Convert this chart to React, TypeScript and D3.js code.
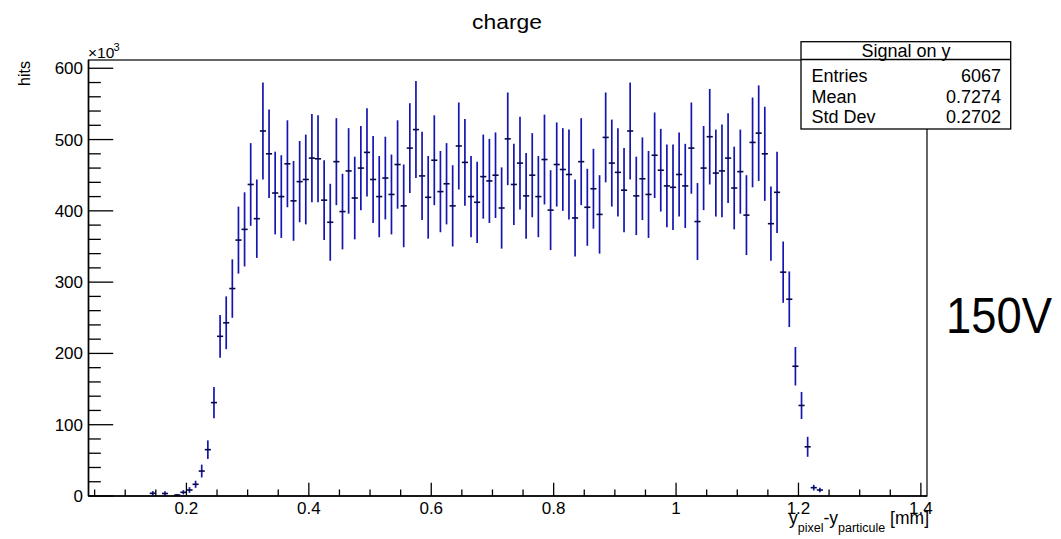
import React from "react";
import * as d3 from "d3";

// Histogram definition: 137 bins of width 0.01 starting at 0.04 (mm)
const binLow = 0.04;
const binWidth = 0.01;
const firstFilledBin = 10;
// bin contents (x10^3 hits), bins 10..119
const counts: number[] = [
  3.8, 0, 3.5, 0, 1.4, 5.2, 8.4, 16.4, 35, 65,
  131, 224, 243, 291, 359, 374, 437, 389, 512, 480,
  425, 420, 466, 414, 441, 444, 474, 473, 415, 384,
  469, 399, 456, 418, 460, 482, 444, 420, 446, 423,
  465, 407, 488, 514, 449, 419, 471, 427, 438, 407,
  491, 468, 420, 412, 448, 442, 450, 404, 501, 437,
  467, 421, 450, 420, 472, 401, 465, 458, 451, 390,
  469, 405, 431, 395, 503, 467, 454, 429, 512, 421,
  445, 423, 478, 457, 435, 433, 451, 435, 488, 385,
  460, 504, 453, 456, 474, 432, 455, 394, 496, 509,
  480, 382, 426, 314, 276, 182, 127, 69, 11.7, 8.4,
];
// half-lengths of the error bars (x10^3)
const errors: number[] = [
  3, 0, 3, 0, 1.5, 3, 4, 5, 9, 13,
  22, 30, 37, 41, 47, 52, 58, 55, 68, 62,
  58, 58, 61, 56, 57, 63, 62, 61, 56, 54,
  61, 53, 60, 58, 59, 62, 61, 57, 58, 56,
  62, 58, 63, 68, 62, 58, 63, 57, 57, 57,
  61, 61, 57, 57, 59, 59, 60, 57, 65, 57,
  65, 60, 59, 57, 63, 56, 59, 58, 63, 54,
  61, 54, 56, 55, 63, 61, 62, 59, 68, 55,
  58, 61, 60, 58, 58, 60, 59, 59, 64, 54,
  59, 67, 61, 65, 63, 58, 59, 56, 63, 67,
  66, 52, 57, 43, 39, 27, 19, 14, 4, 3,
];

const xDomain: [number, number] = [0.04, 1.41];
const yDomain: [number, number] = [0, 611.6];
const xMajorTicks = [0.2, 0.4, 0.6, 0.8, 1.0, 1.2, 1.4];
const xTickLabels = ["0.2", "0.4", "0.6", "0.8", "1", "1.2", "1.4"];
const yMajorTicks = [0, 100, 200, 300, 400, 500, 600];
const yTickLabels = ["0", "100", "200", "300", "400", "500", "600"];

const statsTitle = "Signal on y";
const statsRows: [string, string][] = [
  ["Entries", "6067"],
  ["Mean", "0.7274"],
  ["Std Dev", "0.2702"],
];

const W = 1061;
const H = 539;
const left = 88.5;
const right = 927;
const top = 60;
const bottom = 496;
const font = "'Liberation Sans', Arial, Helvetica, sans-serif";

export default function App() {
  const x = d3.scaleLinear().domain(xDomain).range([left, right]);
  const y = d3.scaleLinear().domain(yDomain).range([bottom, top]);

  const xMinor = d3.range(0.05, 1.41, 0.05).filter(
    (v) => !xMajorTicks.some((m) => Math.abs(m - v) < 1e-6)
  );
  const yMinor = d3.range(20, 611, 20).filter((v) => v % 100 !== 0);

  const points = counts.map((c, i) => {
    const k = firstFilledBin + i;
    const lo = binLow + k * binWidth;
    return { lo, hi: lo + binWidth, c: c, e: errors[i] };
  }).filter((p) => p.c > 0);

  return (
    <svg
      width={W}
      height={H}
      style={{ position: "absolute", left: 0, top: 0, background: "#fff" }}
      fontFamily={font}
    >
      <rect x={0} y={0} width={W} height={H} fill="#fff" />
      {/* title */}
      <text x={507} y={28.5} fontSize={21} textAnchor="middle" textLength={70} lengthAdjust="spacingAndGlyphs">charge</text>

      {/* data */}
      <g>
        {points.map((p, i) => {
          const cx = x((p.lo + p.hi) / 2);
          return (
            <g key={i}>
              <line x1={cx} x2={cx} y1={y(p.c - p.e)} y2={y(p.c + p.e)} stroke="#1515b0" strokeWidth={1.7} />
              <line x1={x(p.lo)} x2={x(p.hi)} y1={y(p.c)} y2={y(p.c)} stroke="#07074a" strokeWidth={1.6} />
            </g>
          );
        })}
      </g>

      {/* frame */}
      <rect x={left} y={top} width={right - left} height={bottom - top} fill="none" stroke="#000" strokeWidth={1.2} />
      <line x1={left} x2={right} y1={bottom} y2={bottom} stroke="#000" strokeWidth={1.6} />
      <line x1={left} x2={left} y1={top} y2={bottom} stroke="#000" strokeWidth={1.6} />

      {/* y axis ticks */}
      {yMajorTicks.map((t, i) => (
        <g key={"ym" + i}>
          <line x1={left} x2={left + 24.7} y1={y(t)} y2={y(t)} stroke="#000" strokeWidth={1.3} />
          <text x={83} y={y(t) + 6} fontSize={17} textAnchor="end">{yTickLabels[i]}</text>
        </g>
      ))}
      {yMinor.map((t, i) => (
        <line key={"yn" + i} x1={left} x2={left + 12.3} y1={y(t)} y2={y(t)} stroke="#000" strokeWidth={1.3} />
      ))}
      <text x={88} y={58.3} fontSize={15.5}>×10</text>
      <text x={113.5} y={50.5} fontSize={11}>3</text>
      <text transform="translate(30,61) rotate(-90)" fontSize={16} textAnchor="end">hits</text>

      {/* x axis ticks */}
      {xMajorTicks.map((t, i) => (
        <g key={"xm" + i}>
          <line x1={x(t)} x2={x(t)} y1={bottom} y2={bottom - 13.3} stroke="#000" strokeWidth={1.3} />
          <text x={x(t)} y={513.5} fontSize={17} textAnchor="middle">{xTickLabels[i]}</text>
        </g>
      ))}
      {xMinor.map((t, i) => (
        <line key={"xn" + i} x1={x(t)} x2={x(t)} y1={bottom} y2={bottom - 6.5} stroke="#000" strokeWidth={1.3} />
      ))}
      <text x={929} y={524} fontSize={17.5} textAnchor="end">
        <tspan>y</tspan>
        <tspan fontSize={12.5} dy={7.5}>pixel</tspan>
        <tspan dy={-7.5}>-y</tspan>
        <tspan fontSize={12.5} dy={7.5}>particule</tspan>
        <tspan dy={-7.5}> [mm]</tspan>
      </text>

      {/* stats box */}
      <rect x={801} y={41.7} width={209.7} height={87.3} fill="#fff" stroke="#000" strokeWidth={1.3} />
      <line x1={801} x2={1010.7} y1={59.5} y2={59.5} stroke="#000" strokeWidth={1.3} />
      <text x={906} y={56.5} fontSize={18} textAnchor="middle">{statsTitle}</text>
      {statsRows.map((r, i) => (
        <g key={"s" + i}>
          <text x={811.5} y={81.7 + i * 20.8} fontSize={18}>{r[0]}</text>
          <text x={1001} y={81.7 + i * 20.8} fontSize={18} textAnchor="end">{r[1]}</text>
        </g>
      ))}

      {/* annotation */}
      <text x={946} y={332.5} fontSize={50} textLength={106} lengthAdjust="spacingAndGlyphs">150V</text>
    </svg>
  );
}
